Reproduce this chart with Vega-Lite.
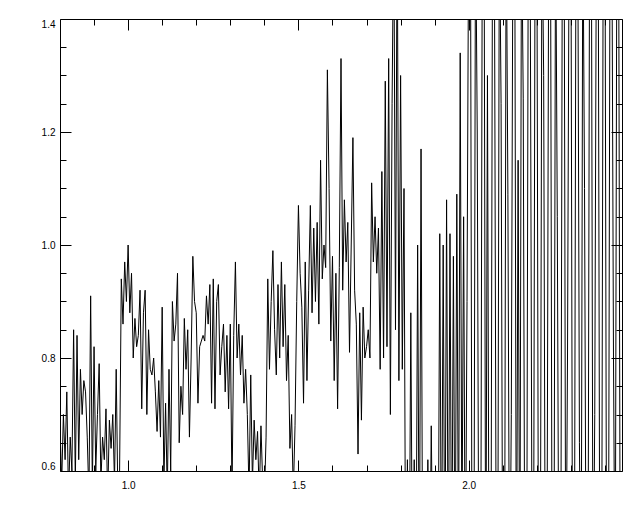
{
"$schema": "https://vega.github.io/schema/vega-lite/v6.json",
"width": 562, "height": 452,
"autosize": "none",
"padding": {"left": 60, "top": 19, "right": 18, "bottom": 41},
"background": "white",
"config": {"view": {"stroke": "black", "strokeWidth": 1}, "axis": {"domain": false, "grid": false, "tickColor": "black", "tickWidth": 1, "labelFont": "Liberation Sans", "labelFontSize": 10, "labelColor": "black"}},
"data": {"values": [
{"x":0.800,"y":0.68},{"x":0.805,"y":0.58},{"x":0.810,"y":0.70},{"x":0.815,"y":0.62},{"x":0.820,"y":0.74},{"x":0.825,"y":0.55},{"x":0.830,"y":0.66},{"x":0.835,"y":0.60},{"x":0.840,"y":0.85},{"x":0.845,"y":0.58},
{"x":0.850,"y":0.84},{"x":0.855,"y":0.62},{"x":0.860,"y":0.78},{"x":0.865,"y":0.70},{"x":0.870,"y":0.76},{"x":0.875,"y":0.74},{"x":0.880,"y":0.66},{"x":0.885,"y":0.55},{"x":0.890,"y":0.91},{"x":0.895,"y":0.57},
{"x":0.900,"y":0.82},{"x":0.905,"y":0.60},{"x":0.910,"y":0.70},{"x":0.915,"y":0.79},{"x":0.920,"y":0.58},{"x":0.925,"y":0.66},{"x":0.930,"y":0.62},{"x":0.935,"y":0.71},{"x":0.940,"y":0.55},{"x":0.945,"y":0.69},
{"x":0.950,"y":0.64},{"x":0.955,"y":0.70},{"x":0.960,"y":0.58},{"x":0.965,"y":0.78},{"x":0.970,"y":0.55},{"x":0.975,"y":0.60},{"x":0.980,"y":0.94},{"x":0.985,"y":0.86},{"x":0.990,"y":0.97},{"x":0.995,"y":0.90},
{"x":1.000,"y":1.00},{"x":1.005,"y":0.88},{"x":1.010,"y":0.95},{"x":1.015,"y":0.80},{"x":1.020,"y":0.87},{"x":1.025,"y":0.82},{"x":1.030,"y":0.84},{"x":1.035,"y":0.92},{"x":1.040,"y":0.71},{"x":1.045,"y":0.88},
{"x":1.050,"y":0.92},{"x":1.055,"y":0.70},{"x":1.060,"y":0.85},{"x":1.065,"y":0.78},{"x":1.070,"y":0.77},{"x":1.075,"y":0.80},{"x":1.080,"y":0.74},{"x":1.085,"y":0.67},{"x":1.090,"y":0.76},{"x":1.095,"y":0.66},
{"x":1.100,"y":0.89},{"x":1.105,"y":0.58},{"x":1.110,"y":0.72},{"x":1.115,"y":0.56},{"x":1.120,"y":0.78},{"x":1.125,"y":0.60},{"x":1.130,"y":0.90},{"x":1.135,"y":0.83},{"x":1.140,"y":0.86},{"x":1.145,"y":0.95},
{"x":1.150,"y":0.65},{"x":1.155,"y":0.75},{"x":1.160,"y":0.70},{"x":1.165,"y":0.87},{"x":1.170,"y":0.78},{"x":1.175,"y":0.85},{"x":1.180,"y":0.66},{"x":1.185,"y":0.80},{"x":1.190,"y":0.98},{"x":1.195,"y":0.90},
{"x":1.200,"y":0.88},{"x":1.205,"y":0.72},{"x":1.210,"y":0.82},{"x":1.215,"y":0.83},{"x":1.220,"y":0.84},{"x":1.225,"y":0.83},{"x":1.230,"y":0.91},{"x":1.235,"y":0.86},{"x":1.240,"y":0.93},{"x":1.245,"y":0.72},
{"x":1.250,"y":0.94},{"x":1.255,"y":0.71},{"x":1.260,"y":0.90},{"x":1.265,"y":0.93},{"x":1.270,"y":0.77},{"x":1.275,"y":0.82},{"x":1.280,"y":0.86},{"x":1.285,"y":0.74},{"x":1.290,"y":0.84},{"x":1.295,"y":0.71},
{"x":1.300,"y":0.86},{"x":1.305,"y":0.56},{"x":1.310,"y":0.84},{"x":1.315,"y":0.97},{"x":1.320,"y":0.80},{"x":1.325,"y":0.86},{"x":1.330,"y":0.77},{"x":1.335,"y":0.84},{"x":1.340,"y":0.72},{"x":1.345,"y":0.78},
{"x":1.350,"y":0.70},{"x":1.355,"y":0.56},{"x":1.360,"y":0.77},{"x":1.365,"y":0.58},{"x":1.370,"y":0.69},{"x":1.375,"y":0.62},{"x":1.380,"y":0.67},{"x":1.385,"y":0.55},{"x":1.390,"y":0.68},{"x":1.395,"y":0.58},
{"x":1.400,"y":0.55},{"x":1.405,"y":0.66},{"x":1.410,"y":0.94},{"x":1.415,"y":0.78},{"x":1.420,"y":0.90},{"x":1.425,"y":0.99},{"x":1.430,"y":0.85},{"x":1.435,"y":0.77},{"x":1.440,"y":0.93},{"x":1.445,"y":0.80},
{"x":1.450,"y":0.97},{"x":1.455,"y":0.82},{"x":1.460,"y":0.93},{"x":1.465,"y":0.76},{"x":1.470,"y":0.84},{"x":1.475,"y":0.64},{"x":1.480,"y":0.70},{"x":1.485,"y":0.56},{"x":1.490,"y":0.68},{"x":1.495,"y":0.90},
{"x":1.500,"y":1.07},{"x":1.505,"y":0.95},{"x":1.510,"y":0.89},{"x":1.515,"y":0.72},{"x":1.520,"y":0.97},{"x":1.525,"y":0.76},{"x":1.530,"y":0.92},{"x":1.535,"y":1.07},{"x":1.540,"y":0.88},{"x":1.545,"y":1.03},
{"x":1.550,"y":0.90},{"x":1.555,"y":1.04},{"x":1.560,"y":0.86},{"x":1.565,"y":1.15},{"x":1.570,"y":0.94},{"x":1.575,"y":1.00},{"x":1.580,"y":0.96},{"x":1.585,"y":1.31},{"x":1.590,"y":1.10},{"x":1.595,"y":0.83},
{"x":1.600,"y":0.98},{"x":1.605,"y":0.76},{"x":1.610,"y":0.95},{"x":1.615,"y":0.71},{"x":1.620,"y":0.96},{"x":1.625,"y":1.33},{"x":1.630,"y":0.92},{"x":1.635,"y":1.08},{"x":1.640,"y":0.97},{"x":1.645,"y":1.04},
{"x":1.650,"y":0.81},{"x":1.655,"y":1.00},{"x":1.660,"y":1.19},{"x":1.665,"y":0.92},{"x":1.670,"y":0.86},{"x":1.675,"y":0.63},{"x":1.680,"y":0.88},{"x":1.685,"y":0.69},{"x":1.690,"y":0.89},{"x":1.695,"y":0.80},
{"x":1.700,"y":0.82},{"x":1.705,"y":0.85},{"x":1.710,"y":0.80},{"x":1.715,"y":1.11},{"x":1.720,"y":0.97},{"x":1.725,"y":1.05},{"x":1.730,"y":0.95},{"x":1.735,"y":1.03},{"x":1.740,"y":0.78},{"x":1.745,"y":1.13},
{"x":1.750,"y":0.80},{"x":1.755,"y":1.29},{"x":1.760,"y":0.82},{"x":1.765,"y":1.33},{"x":1.770,"y":0.70},{"x":1.775,"y":1.25},{"x":1.780,"y":1.60},{"x":1.785,"y":0.85},{"x":1.790,"y":1.60},{"x":1.795,"y":0.76},
{"x":1.800,"y":1.30},{"x":1.805,"y":0.78},{"x":1.810,"y":1.10},{"x":1.815,"y":0.35},{"x":1.820,"y":0.62},{"x":1.825,"y":0.35},{"x":1.830,"y":0.88},{"x":1.835,"y":0.35},{"x":1.840,"y":0.62},{"x":1.845,"y":0.35},
{"x":1.850,"y":1.00},{"x":1.855,"y":0.35},{"x":1.860,"y":1.17},{"x":1.865,"y":0.35},{"x":1.870,"y":0.58},{"x":1.875,"y":0.35},{"x":1.880,"y":0.62},{"x":1.885,"y":0.35},{"x":1.890,"y":0.68},{"x":1.895,"y":0.40},
{"x":1.900,"y":0.35},{"x":1.905,"y":0.58},{"x":1.910,"y":0.35},{"x":1.915,"y":1.02},{"x":1.920,"y":0.35},{"x":1.925,"y":1.00},{"x":1.930,"y":0.35},{"x":1.935,"y":1.08},{"x":1.940,"y":0.35},{"x":1.945,"y":1.02},
{"x":1.950,"y":0.35},{"x":1.955,"y":0.98},{"x":1.960,"y":0.35},{"x":1.965,"y":1.09},{"x":1.970,"y":0.40},{"x":1.975,"y":1.34},{"x":1.980,"y":0.45},{"x":1.985,"y":1.05},{"x":1.990,"y":0.35},{"x":1.995,"y":0.90},
{"x":2.000,"y":1.60},{"x":2.005,"y":1.60},{"x":2.010,"y":0.30},{"x":2.015,"y":0.30},{"x":2.020,"y":1.60},{"x":2.025,"y":1.20},{"x":2.030,"y":0.30},{"x":2.035,"y":0.30},{"x":2.040,"y":1.60},{"x":2.045,"y":1.60},
{"x":2.050,"y":0.30},{"x":2.055,"y":1.30},{"x":2.060,"y":0.30},{"x":2.065,"y":0.30},{"x":2.070,"y":1.60},{"x":2.075,"y":1.60},{"x":2.080,"y":0.55},{"x":2.085,"y":0.30},{"x":2.090,"y":1.60},{"x":2.095,"y":1.25},
{"x":2.100,"y":0.30},{"x":2.105,"y":0.30},{"x":2.110,"y":1.60},{"x":2.115,"y":1.09},{"x":2.120,"y":0.30},{"x":2.125,"y":0.70},{"x":2.130,"y":1.60},{"x":2.135,"y":1.60},{"x":2.140,"y":0.30},{"x":2.145,"y":1.15},
{"x":2.150,"y":0.30},{"x":2.155,"y":1.60},{"x":2.160,"y":1.26},{"x":2.165,"y":0.30},{"x":2.170,"y":0.30},{"x":2.175,"y":1.60},{"x":2.180,"y":1.60},{"x":2.185,"y":0.60},{"x":2.190,"y":0.30},{"x":2.195,"y":1.60},
{"x":2.200,"y":1.60},{"x":2.205,"y":0.30},{"x":2.210,"y":0.30},{"x":2.215,"y":1.60},{"x":2.220,"y":1.30},{"x":2.225,"y":0.30},{"x":2.230,"y":0.45},{"x":2.235,"y":1.60},{"x":2.240,"y":1.60},{"x":2.245,"y":0.30},
{"x":2.250,"y":0.30},{"x":2.255,"y":1.60},{"x":2.260,"y":1.05},{"x":2.265,"y":0.30},{"x":2.270,"y":0.30},{"x":2.275,"y":1.60},{"x":2.280,"y":1.60},{"x":2.285,"y":0.30},{"x":2.290,"y":0.80},{"x":2.295,"y":1.60},
{"x":2.300,"y":1.60},{"x":2.305,"y":0.30},{"x":2.310,"y":0.30},{"x":2.315,"y":1.60},{"x":2.320,"y":1.60},{"x":2.325,"y":0.65},{"x":2.330,"y":0.30},{"x":2.335,"y":1.60},{"x":2.340,"y":1.10},{"x":2.345,"y":0.30},
{"x":2.350,"y":0.30},{"x":2.355,"y":1.60},{"x":2.360,"y":1.60},{"x":2.365,"y":0.30},{"x":2.370,"y":0.70},{"x":2.375,"y":1.60},{"x":2.380,"y":1.60},{"x":2.385,"y":0.30},{"x":2.390,"y":0.30},{"x":2.395,"y":1.60},
{"x":2.400,"y":1.60},{"x":2.405,"y":0.30},{"x":2.410,"y":0.30},{"x":2.415,"y":1.60},{"x":2.420,"y":1.60},{"x":2.425,"y":0.80},{"x":2.430,"y":0.30},{"x":2.435,"y":1.60},{"x":2.440,"y":1.60},{"x":2.445,"y":0.30},{"x":2.450,"y":0.30}
]},
"layer": [
{
"mark": {"type": "line", "color": "black", "strokeWidth": 1, "clip": true, "interpolate": "linear"},
"encoding": {
"x": {"field": "x", "type": "quantitative", "scale": {"domain": [0.8, 2.45], "nice": false, "zero": false}, "axis": {"orient": "bottom", "title": null, "values": [1.0, 1.5, 2.0], "format": ".1f", "tickSize": -11, "labelPadding": 20}},
"y": {"field": "y", "type": "quantitative", "scale": {"domain": [0.6, 1.4], "nice": false, "zero": false}, "axis": {"orient": "left", "title": null, "values": [0.6, 0.8, 1.0, 1.2, 1.4], "format": ".1f", "tickSize": -11, "labelPadding": 16, "labelFlush": true}}
}
},
{
"mark": {"type": "line", "opacity": 0, "clip": true},
"encoding": {
"x": {"field": "x", "type": "quantitative", "scale": {"domain": [0.8, 2.45], "nice": false, "zero": false}, "axis": {"orient": "top", "title": null, "values": [1.0, 1.5, 2.0], "labels": false, "tickSize": -11}},
"y": {"field": "y", "type": "quantitative", "scale": {"domain": [0.6, 1.4], "nice": false, "zero": false}, "axis": {"orient": "right", "title": null, "values": [0.6, 0.8, 1.0, 1.2, 1.4], "labels": false, "tickSize": -11}}
}
},
{
"mark": {"type": "line", "opacity": 0, "clip": true},
"encoding": {
"x": {"field": "x", "type": "quantitative", "scale": {"domain": [0.8, 2.45], "nice": false, "zero": false}, "axis": {"orient": "bottom", "title": null, "values": [0.9, 1.1, 1.2, 1.3, 1.4, 1.6, 1.7, 1.8, 1.9, 2.1, 2.2, 2.3, 2.4], "labels": false, "tickSize": -6}},
"y": {"field": "y", "type": "quantitative", "scale": {"domain": [0.6, 1.4], "nice": false, "zero": false}, "axis": {"orient": "left", "title": null, "values": [0.65, 0.7, 0.75, 0.85, 0.9, 0.95, 1.05, 1.1, 1.15, 1.25, 1.3, 1.35], "labels": false, "tickSize": -6}}
}
},
{
"mark": {"type": "line", "opacity": 0, "clip": true},
"encoding": {
"x": {"field": "x", "type": "quantitative", "scale": {"domain": [0.8, 2.45], "nice": false, "zero": false}, "axis": {"orient": "top", "title": null, "values": [0.9, 1.1, 1.2, 1.3, 1.4, 1.6, 1.7, 1.8, 1.9, 2.1, 2.2, 2.3, 2.4], "labels": false, "tickSize": -6}},
"y": {"field": "y", "type": "quantitative", "scale": {"domain": [0.6, 1.4], "nice": false, "zero": false}, "axis": {"orient": "right", "title": null, "values": [0.65, 0.7, 0.75, 0.85, 0.9, 0.95, 1.05, 1.1, 1.15, 1.25, 1.3, 1.35], "labels": false, "tickSize": -6}}
}
}
],
"resolve": {"axis": {"x": "independent", "y": "independent"}}
}
